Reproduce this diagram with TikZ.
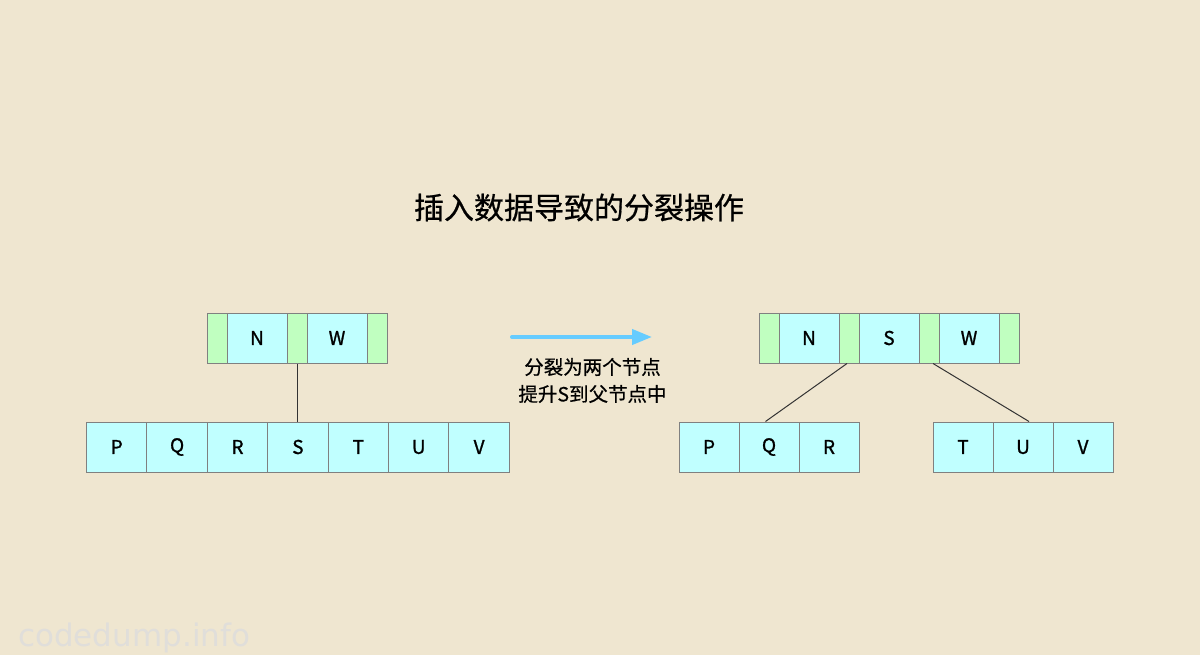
\documentclass[tikz,border=0pt]{standalone}
\usepackage{fontspec}
\setmainfont{Noto Sans CJK SC}
\newfontfamily\cellfont[FakeBold=1.2]{Noto Sans CJK SC}
\newfontfamily\titlefont[FakeBold=0.6]{Noto Sans CJK SC}
\newfontfamily\wmfont{DejaVu Sans}
\usetikzlibrary{arrows.meta}
\definecolor{bg}{RGB}{239,230,208}
\definecolor{cellcyan}{RGB}{192,255,255}
\definecolor{cellgreen}{RGB}{192,255,192}
\definecolor{cellborder}{RGB}{128,128,128}
\definecolor{arrowblue}{RGB}{102,204,255}
\definecolor{wmgray}{RGB}{224,222,218}
\tikzset{
  cellc/.style={draw=cellborder, fill=cellcyan, line width=1pt, minimum width=60pt, minimum height=50pt, inner sep=0pt, font=\cellfont\fontsize{19}{19}\selectfont},
  cellg/.style={draw=cellborder, fill=cellgreen, line width=1pt, minimum width=20pt, minimum height=50pt, inner sep=0pt},
  link/.style={draw=black!80, line width=1pt},
}
\begin{document}
\begin{tikzpicture}[x=1pt,y=-1pt]
\fill[bg] (0,0) rectangle (1200,655);
\useasboundingbox (0,0) rectangle (1200,655);

\node (title) at (579,207.5) {\titlefont\fontsize{30}{30}\selectfont 插入数据导致的分裂操作};

% left parent
\node[cellg] (lg1) at (217,338) {};
\node[cellc] (lN) at (257,338) {N};
\node[cellg] (lg2) at (297,338) {};
\node[cellc] (lW) at (337,338) {W};
\node[cellg] (lg3) at (377,338) {};

% left child
\node[cellc, minimum width=60.4pt] (lP) at (116.7,447) {P};
\node[cellc, minimum width=60.4pt] (lQ) at (177.1,447) {Q};
\node[cellc, minimum width=60.4pt] (lR) at (237.5,447) {R};
\node[cellc, minimum width=60.4pt] (lS) at (297.9,447) {S};
\node[cellc, minimum width=60.4pt] (lT) at (358.3,447) {T};
\node[cellc, minimum width=60.4pt] (lU) at (418.7,447) {U};
\node[cellc, minimum width=60.4pt] (lV) at (479.1,447) {V};

\draw[link] (lg2.south) -- (lg2.south |- lS.north);

% arrow and labels
\coordinate (a1) at (512,337);
\coordinate (a2) at (652,337);
\draw[arrowblue, line width=4pt, line cap=round, -{Triangle[length=20pt,width=15pt]}] (a1) -- (a2);
\node (lab1) at (592.5,367) {\titlefont\fontsize{19.5}{19.5}\selectfont 分裂为两个节点};
\node (lab2) at (592.5,394) {\titlefont\fontsize{19.5}{19.5}\selectfont 提升S到父节点中};

% right parent
\node[cellg] (rg1) at (769,338) {};
\node[cellc] (rN) at (809,338) {N};
\node[cellg] (rg2) at (849,338) {};
\node[cellc] (rS) at (889,338) {S};
\node[cellg] (rg3) at (929,338) {};
\node[cellc] (rW) at (969,338) {W};
\node[cellg] (rg4) at (1009,338) {};

% right children
\node[cellc] (rP) at (709,447) {P};
\node[cellc] (rQ) at (769,447) {Q};
\node[cellc] (rR) at (829,447) {R};
\node[cellc] (rT) at (963,447) {T};
\node[cellc] (rU) at (1023,447) {U};
\node[cellc] (rV) at (1083,447) {V};

\draw[link] ([xshift=-2pt]rg2.south) -- ([xshift=-3.5pt]rQ.north);
\draw[link] ([xshift=4pt]rg3.south) -- ([xshift=6pt]rU.north);

% watermark
\node[anchor=base west, inner sep=0pt, text=wmgray] (wm) at (18,646) {\wmfont\fontsize{31}{31}\selectfont codedump.info};
\end{tikzpicture}
\end{document}
